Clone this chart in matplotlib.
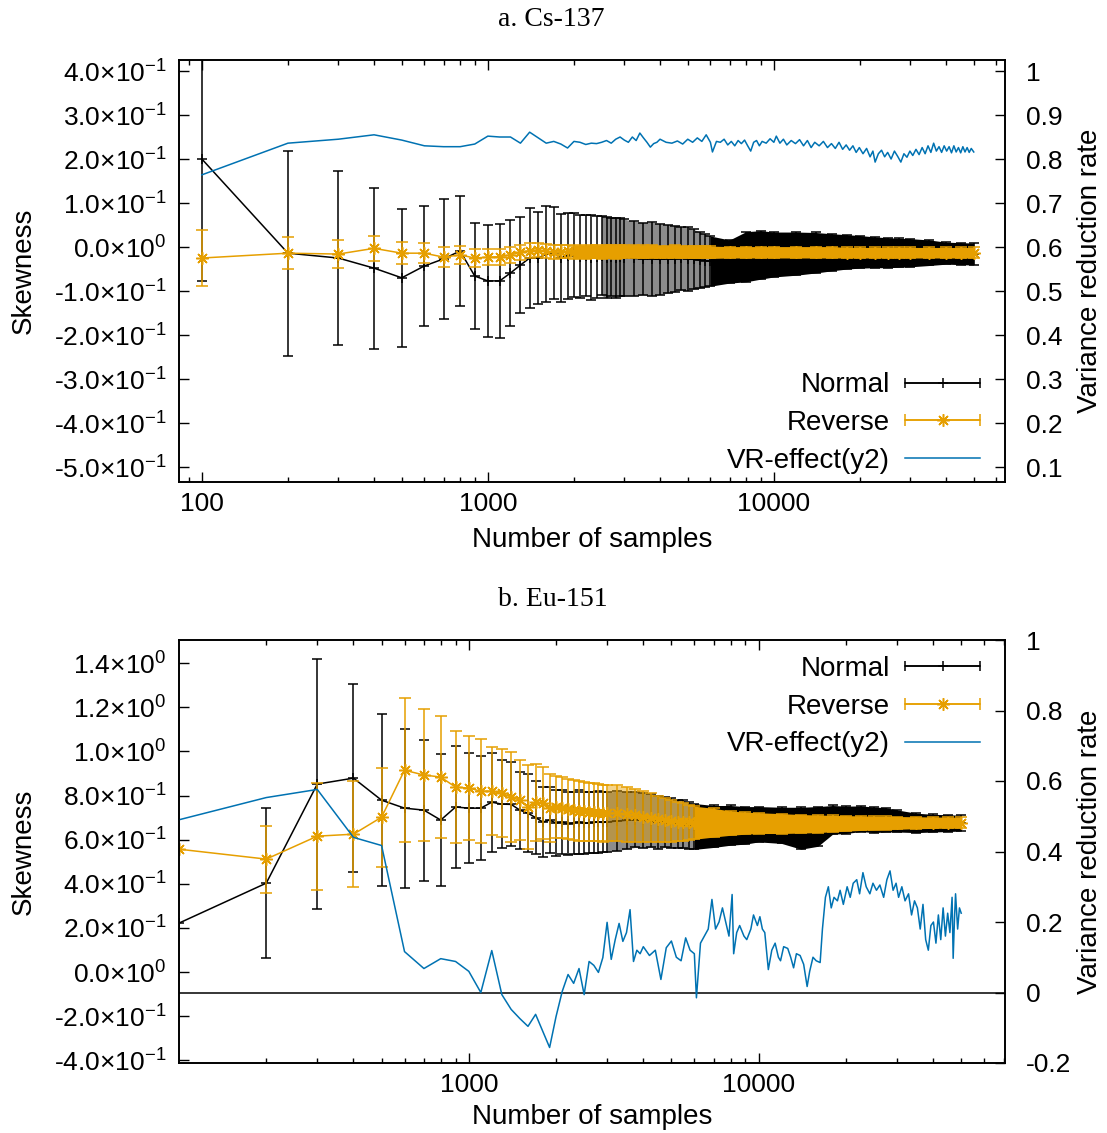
import numpy as np
import matplotlib
matplotlib.use("Agg")
import matplotlib.pyplot as plt
from matplotlib.ticker import FixedLocator, FuncFormatter, NullFormatter
from matplotlib.container import ErrorbarContainer
from matplotlib.legend_handler import HandlerErrorbar

# number of samples where the skewness was evaluated
samples = [100, 200, 300, 400, 500, 600, 700, 800, 900, 1000,
           1100, 1200, 1300, 1400, 1500, 1600, 1700, 1800, 1900, 2000,
           2100, 2200, 2300, 2400, 2500, 2600, 2700, 2800, 2900, 3000,
           3250, 3500, 3750, 4000, 4250, 4500, 4750, 5000, 5250, 5500, 5750, 6000,
           7000, 8000, 9000, 10000,
           12000, 14000, 16000, 18000, 20000, 22500, 25000, 27500, 30000, 35000, 40000, 45000, 50000]

# a. Cs-137
cs_normal = [0.200, -0.014, -0.025, -0.048, -0.070, -0.043, -0.027, -0.009, -0.066, -0.077,
             -0.077, -0.059, -0.041, -0.025, -0.025, -0.016, -0.014, -0.025, -0.020, -0.018,
             -0.022, -0.020, -0.024, -0.022, -0.020, -0.024, -0.022, -0.025, -0.023, -0.024,
             -0.026, -0.027, -0.027, -0.028, -0.027, -0.027, -0.026, -0.027, -0.028, -0.030, -0.031, -0.032,
             -0.033, -0.022, -0.018, -0.017,
             -0.015, -0.013, -0.012, -0.011, -0.011, -0.012, -0.013, -0.013, -0.013, -0.013, -0.014, -0.015, -0.016]
cs_normal_err = [0.277, 0.233, 0.197, 0.183, 0.157, 0.137, 0.137, 0.125, 0.120, 0.127,
                 0.130, 0.120, 0.110, 0.113, 0.105, 0.110, 0.105, 0.100, 0.098, 0.095,
                 0.094, 0.092, 0.096, 0.093, 0.090, 0.092, 0.089, 0.091, 0.088, 0.087,
                 0.085, 0.082, 0.084, 0.080, 0.078, 0.075, 0.072, 0.072, 0.068, 0.064, 0.060, 0.057,
                 0.049, 0.057, 0.055, 0.051,
                 0.049, 0.046, 0.042, 0.039, 0.037, 0.035, 0.034, 0.033, 0.032, 0.029, 0.025, 0.025, 0.025]
cs_reverse = [-0.025, -0.014, -0.016, -0.003, -0.014, -0.014, -0.023, -0.018, -0.025, -0.023,
              -0.022, -0.018, -0.012, -0.008, -0.007, -0.010, -0.012, -0.011, -0.010, -0.012,
              -0.011, -0.012, -0.010, -0.011, -0.012, -0.010, -0.011, -0.012, -0.011, -0.010,
              -0.010, -0.011, -0.010, -0.011, -0.011, -0.010, -0.011, -0.011, -0.012, -0.011, -0.012, -0.012,
              -0.012, -0.012, -0.012, -0.012,
              -0.012, -0.012, -0.012, -0.013, -0.013, -0.013, -0.013, -0.013, -0.013, -0.013, -0.013, -0.013, -0.013]
cs_reverse_err = [0.064, 0.037, 0.031, 0.028, 0.025, 0.022, 0.023, 0.021, 0.020, 0.019,
                  0.018, 0.018, 0.017, 0.017, 0.016, 0.016, 0.016, 0.015, 0.015, 0.015,
                  0.015, 0.015, 0.015, 0.015, 0.015, 0.015, 0.015, 0.015, 0.015, 0.015,
                  0.015, 0.015, 0.015, 0.014, 0.014, 0.014, 0.014, 0.014, 0.014, 0.014, 0.014, 0.014,
                  0.013, 0.013, 0.013, 0.013,
                  0.013, 0.013, 0.013, 0.012, 0.012, 0.012, 0.012, 0.012, 0.012, 0.012, 0.012, 0.012, 0.012]
cs_vr_n = [100, 200, 300, 400, 500, 600, 700, 800, 900, 1000,
           1100, 1200, 1300, 1400, 1500, 1600, 1700, 1800, 1900, 2000,
           2100, 2200, 2300, 2400, 2500, 2600, 2700, 2800, 2900, 3000,
           3100, 3200, 3300, 3400, 3500, 3600, 3700, 3800, 3900, 4000,
           4200, 4400, 4600, 4800, 5000, 5200, 5400, 5600, 5800, 6000,
           6100, 6300, 6500, 6700, 6900, 7100, 7300, 7500, 7700, 7900,
           8100, 8300, 8500, 8700, 8900, 9100, 9400, 9700, 10000, 10200,
           10500, 10800, 11100, 11500, 11900, 12300, 12700, 13100, 13500, 13900,
           14400, 14900, 15400, 15900, 16400, 16900, 17400, 17900, 18400, 18900,
           19400, 19900, 20500, 21100, 21700, 22200, 22600, 23200, 23800, 24400,
           25000, 25700, 26400, 27100, 27800, 28500, 29200, 29900, 30600, 31400,
           32200, 33000, 33800, 34600, 35400, 36200, 37000, 37800, 38600, 39400,
           40200, 41000, 41800, 42600, 43400, 44200, 45000, 45800, 46600, 47400,
           48200, 49000, 50000]
cs_vr = [0.764, 0.836, 0.845, 0.855, 0.843, 0.830, 0.828, 0.828, 0.834, 0.852,
         0.850, 0.850, 0.836, 0.861, 0.848, 0.836, 0.840, 0.834, 0.825, 0.840,
         0.838, 0.833, 0.836, 0.835, 0.838, 0.842, 0.836, 0.845, 0.850, 0.843,
         0.838, 0.850, 0.842, 0.859, 0.848, 0.838, 0.827, 0.835, 0.838, 0.845,
         0.838, 0.836, 0.841, 0.834, 0.845, 0.838, 0.848, 0.840, 0.855, 0.838,
         0.816, 0.840, 0.838, 0.845, 0.832, 0.840, 0.830, 0.842, 0.835, 0.843,
         0.830, 0.818, 0.838, 0.842, 0.830, 0.840, 0.836, 0.846, 0.838, 0.852,
         0.836, 0.845, 0.832, 0.842, 0.835, 0.844, 0.830, 0.842, 0.826, 0.838,
         0.830, 0.840, 0.826, 0.835, 0.824, 0.838, 0.822, 0.832, 0.820, 0.830,
         0.815, 0.826, 0.812, 0.824, 0.805, 0.818, 0.793, 0.812, 0.820, 0.805,
         0.815, 0.800, 0.818, 0.806, 0.793, 0.812, 0.804, 0.818, 0.808, 0.822,
         0.810, 0.826, 0.812, 0.830, 0.815, 0.836, 0.818, 0.828, 0.815, 0.830,
         0.818, 0.828, 0.814, 0.830, 0.816, 0.826, 0.814, 0.828, 0.816, 0.826,
         0.815, 0.824, 0.816]

# b. Eu-151
nan = float('nan')
eu_normal = [0.222, 0.403, 0.852, 0.879, 0.779, 0.743, 0.734, 0.689, 0.748, 0.743,
             0.743, 0.770, 0.761, 0.760, 0.734, 0.720, 0.700, 0.680, 0.689, 0.675,
             0.680, 0.672, 0.676, 0.680, 0.674, 0.676, 0.678, 0.680, 0.678, 0.680,
             0.685, 0.688, 0.690, 0.688, 0.685, 0.680, 0.680, 0.675, 0.672, 0.670, 0.665, 0.660,
             0.660, 0.665, 0.665, 0.670,
             0.665, 0.652, 0.660, 0.690, 0.690, 0.695, 0.690, 0.690, 0.685, 0.676, 0.675, 0.675, 0.675]
eu_normal_err = [nan, 0.340, 0.567, 0.426, 0.390, 0.360, 0.320, 0.300, 0.275, 0.250,
                 0.235, 0.225, 0.200, 0.190, 0.175, 0.177, 0.165, 0.160, 0.150, 0.150,
                 0.145, 0.142, 0.140, 0.143, 0.140, 0.138, 0.137, 0.140, 0.136, 0.135,
                 0.135, 0.130, 0.125, 0.125, 0.120, 0.120, 0.115, 0.112, 0.110, 0.108, 0.105, 0.104,
                 0.095, 0.090, 0.085, 0.080,
                 0.082, 0.095, 0.090, 0.065, 0.062, 0.058, 0.058, 0.055, 0.050, 0.044, 0.040, 0.038, 0.036]
eu_reverse = [0.557, 0.512, 0.616, 0.625, 0.702, 0.915, 0.893, 0.884, 0.838, 0.834,
              0.820, 0.820, 0.810, 0.793, 0.779, 0.748, 0.770, 0.766, 0.743, 0.748,
              0.745, 0.740, 0.735, 0.730, 0.728, 0.725, 0.726, 0.722, 0.720, 0.720,
              0.720, 0.715, 0.710, 0.705, 0.700, 0.695, 0.690, 0.685, 0.682, 0.680, 0.678, 0.677,
              0.677, 0.675, 0.675, 0.675,
              0.673, 0.672, 0.672, 0.673, 0.674, 0.675, 0.675, 0.676, 0.676, 0.677, 0.677, 0.677, 0.677]
eu_reverse_err = [nan, 0.152, 0.243, 0.240, 0.225, 0.325, 0.300, 0.275, 0.255, 0.235,
                  0.235, 0.200, 0.200, 0.205, 0.180, 0.190, 0.175, 0.165, 0.155, 0.140,
                  0.138, 0.136, 0.135, 0.134, 0.133, 0.132, 0.131, 0.130, 0.129, 0.128,
                  0.127, 0.125, 0.120, 0.115, 0.110, 0.105, 0.100, 0.095, 0.090, 0.085, 0.080, 0.075,
                  0.065, 0.055, 0.050, 0.047,
                  0.045, 0.042, 0.040, 0.037, 0.035, 0.033, 0.031, 0.030, 0.029, 0.027, 0.026, 0.025, 0.025]
eu_vr_n = [100, 200, 300, 400, 500, 600, 700, 800, 900, 1000,
           1100, 1200, 1300, 1400, 1500, 1600, 1700, 1800, 1900, 2000,
           2100, 2200, 2300, 2400, 2500, 2600, 2700, 2800, 2900, 3000,
           3100, 3200, 3300, 3400, 3500, 3600, 3700, 3800, 3900, 4000,
           4200, 4400, 4600, 4800, 5000, 5200, 5400, 5600, 5800, 6000,
           6100, 6300, 6500, 6700, 6900, 7100, 7300, 7500, 7700, 7900,
           8100, 8200, 8400, 8600, 8900, 9100, 9400, 9600, 9900, 10100,
           10300, 10500, 10800, 11100, 11400, 11700, 11900, 12200, 12600, 12900,
           13200, 13500, 13900, 14300, 14700, 15000, 15400, 15800, 16300, 16600,
           17000, 17400, 17800, 18200, 18700, 19100, 19600, 20200, 20700, 21200,
           21800, 22300, 22900, 23500, 24200, 24800, 25500, 26200, 27000, 27700,
           28400, 29100, 29800, 30400, 31200, 32000, 32900, 33700, 34500, 35300,
           36100, 36900, 37700, 38500, 39300, 40100, 40900, 41700, 42500, 43300,
           44100, 44900, 45700, 46500, 46900, 47400, 47800, 48600, 49300, 50000]
eu_vr = [0.490, 0.553, 0.576, 0.440, 0.417, 0.116, 0.068, 0.096, 0.088, 0.060,
         0.000, 0.119, -0.006, -0.048, -0.074, -0.096, -0.062, -0.110, -0.156, -0.068,
         0.003, 0.051, 0.026, 0.068, -0.006, 0.088, 0.077, 0.057, 0.099, 0.199,
         0.094, 0.150, 0.196, 0.145, 0.170, 0.235, 0.088, 0.120, 0.110, 0.130,
         0.105, 0.120, 0.037, 0.127, 0.146, 0.100, 0.090, 0.155, 0.120, 0.110,
         -0.015, 0.140, 0.160, 0.180, 0.264, 0.180, 0.200, 0.240, 0.200, 0.160,
         0.278, 0.110, 0.170, 0.190, 0.160, 0.150, 0.180, 0.220, 0.190, 0.215,
         0.180, 0.170, 0.065, 0.120, 0.140, 0.100, 0.090, 0.130, 0.125, 0.100,
         0.070, 0.110, 0.105, 0.080, 0.017, 0.060, 0.100, 0.090, 0.085, 0.180,
         0.270, 0.300, 0.240, 0.270, 0.260, 0.290, 0.250, 0.300, 0.270, 0.310,
         0.320, 0.280, 0.340, 0.300, 0.280, 0.310, 0.290, 0.305, 0.270, 0.320,
         0.345, 0.290, 0.310, 0.270, 0.300, 0.260, 0.280, 0.220, 0.260, 0.240,
         0.180, 0.250, 0.150, 0.120, 0.190, 0.200, 0.140, 0.220, 0.150, 0.240,
         0.160, 0.225, 0.170, 0.270, 0.097, 0.210, 0.280, 0.180, 0.240, 0.225]

BLACK = '#000000'
ORANGE = '#e69f00'
BLUE = '#0072b2'

plt.rcParams['font.family'] = ['Liberation Sans', 'DejaVu Sans']
plt.rcParams['mathtext.fontset'] = 'custom'
plt.rcParams['mathtext.rm'] = 'Liberation Sans'
plt.rcParams['mathtext.it'] = 'Liberation Sans:italic'
plt.rcParams['mathtext.bf'] = 'Liberation Sans:bold'


def sci_fmt(v, pos=None):
    if abs(v) < 1e-9:
        return '0.0×10$^{\\mathregular{0}}$'
    e = int(np.floor(np.log10(abs(v)) + 1e-9))
    return f'{v / 10**e:.1f}×10$^{{\\mathregular{{{e}}}}}$'


def plain_fmt(v, pos=None):
    if abs(v) < 1e-9:
        return '0'
    return f'{round(v, 3):g}'


def band(ax, n, mean, err, light_from, solid_from, color, z):
    # many overlapping error bars merge into a band at large sample counts
    lo, hi = mean - err, mean + err
    light = (n >= light_from) & (n <= solid_from)
    if light.any():
        ax.fill_between(n[light], lo[light], hi[light], color=color, alpha=0.45, lw=0, zorder=z)
    solid = n >= solid_from
    ax.fill_between(n[solid], lo[solid], hi[solid], color=color, lw=0, zorder=z)


def draw_panel(ax, normal, normal_err, reverse, reverse_err, vr_n, vr,
               normal_fill, reverse_fill):
    n = np.array(samples, dtype=float)
    normal, normal_err = np.array(normal), np.array(normal_err)
    reverse, reverse_err = np.array(reverse), np.array(reverse_err)

    eb_normal = ax.errorbar(n, normal, yerr=normal_err, color=BLACK, lw=1.1,
                            marker='+', ms=7, mew=1.1, elinewidth=1.1,
                            capsize=3.5, capthick=1.1, zorder=2)
    band(ax, n, normal, normal_err, *normal_fill, BLACK, 1.9)

    eb_reverse = ax.errorbar(n, reverse, yerr=reverse_err, color=ORANGE, lw=1.1,
                             marker=(8, 2, 0), ms=9, mew=1.1, elinewidth=1.1,
                             capsize=4.3, capthick=1.1, zorder=2.2)
    band(ax, n, reverse, reverse_err, *reverse_fill, ORANGE, 2.1)

    ax2 = ax.twinx()
    vr_line, = ax2.plot(vr_n, vr, color=BLUE, lw=1.1)

    ax.set_xscale('log')
    ax.xaxis.set_minor_locator(FixedLocator([k * 10**p for p in (1, 2, 3, 4) for k in range(2, 10)]))
    ax.xaxis.set_minor_formatter(NullFormatter())
    ax.xaxis.set_major_formatter(FuncFormatter(lambda v, p: f'{v:.0f}'))
    ax.yaxis.set_major_formatter(FuncFormatter(sci_fmt))
    ax2.yaxis.set_major_formatter(FuncFormatter(plain_fmt))

    ax.tick_params(axis='both', which='major', direction='in', length=7, width=1.0, labelsize=19)
    ax.tick_params(axis='x', which='both', direction='in', top=True, pad=7)
    ax.tick_params(axis='x', which='minor', length=3.5, width=1.0)
    ax.tick_params(axis='y', left=True, right=False, pad=9)
    ax2.tick_params(axis='y', direction='in', length=7, width=1.0, labelsize=19, pad=15)
    for a in (ax, ax2):
        for sp in a.spines.values():
            sp.set_linewidth(1.2)

    ax.set_ylabel('Skewness', fontsize=20, va='center')
    ax2.set_ylabel('Variance reduction rate', fontsize=20, va='center')
    ax.yaxis.set_label_coords(-0.1877, 0.5)
    ax2.yaxis.set_label_coords(1.103, 0.5)
    ax.set_xlabel('Number of samples', fontsize=20, va='center')

    h_normal = ErrorbarContainer(eb_normal.lines, has_xerr=True, has_yerr=False, label='Normal')
    h_reverse = ErrorbarContainer(eb_reverse.lines, has_xerr=True, has_yerr=False, label='Reverse')
    return ax2, [h_normal, h_reverse, vr_line]


fig = plt.figure(figsize=(11.07, 11.33), dpi=100)
W, H = 1107, 1133
ax_a = fig.add_axes([179 / W, 1 - 482 / H, 826 / W, 422 / H])
ax_b = fig.add_axes([179 / W, 1 - 1063 / H, 826 / W, 423 / H])

labels = ['Normal', 'Reverse', 'VR-effect(y2)']
hl = 2.7
legend_kw = dict(frameon=False, markerfirst=False, fontsize=20, handlelength=hl,
                 handletextpad=0.55, labelspacing=0.42, borderpad=0, borderaxespad=0)

# panel a
ax_a2, handles_a = draw_panel(ax_a, cs_normal, cs_normal_err, cs_reverse, cs_reverse_err,
                              cs_vr_n, cs_vr, (2500, 6000), (2000, 2000))
ax_a.set_xlim(83.2, 64300)
ax_a.set_ylim(-0.534, 0.425)
ax_a2.set_ylim(0.066, 1.025)
ax_a.xaxis.set_major_locator(FixedLocator([100, 1000, 10000]))
ax_a.yaxis.set_major_locator(FixedLocator(np.round(np.arange(-5, 5) * 0.1, 1)))
ax_a2.yaxis.set_major_locator(FixedLocator(np.round(np.arange(1, 11) * 0.1, 1)))
ax_a.xaxis.set_label_coords(0.5, -0.137)
ax_a2.legend(handles_a, labels, loc='lower right', bbox_to_anchor=(0.97, 0.02),
             handler_map={h: HandlerErrorbar(xerr_size=hl / 2) for h in handles_a[:2]},
             **legend_kw)

# panel b
ax_b2, handles_b = draw_panel(ax_b, eu_normal, eu_normal_err, eu_reverse, eu_reverse_err,
                              eu_vr_n, eu_vr, (3000, 6000), (3000, 6000))
ax_b.set_xlim(100, 70800)
ax_b.set_ylim(-0.412, 1.505)
ax_b2.set_ylim(-0.2, 1.0)
ax_b2.axhline(0, color=BLACK, lw=1.1, zorder=1)
ax_b.xaxis.set_major_locator(FixedLocator([1000, 10000]))
ax_b.yaxis.set_major_locator(FixedLocator(np.round(np.arange(-2, 8) * 0.2, 1)))
ax_b2.yaxis.set_major_locator(FixedLocator(np.round(np.arange(-1, 6) * 0.2, 1)))
ax_b.xaxis.set_label_coords(0.5, -0.128)
ax_b2.legend(handles_b, labels, loc='upper right', bbox_to_anchor=(0.97, 0.962),
             handler_map={h: HandlerErrorbar(xerr_size=hl / 2) for h in handles_b[:2]},
             **legend_kw)

fig.text(551 / W, 1 - 20 / H, 'a. Cs-137', family='Liberation Serif', fontsize=20,
         ha='center', va='center')
fig.text(553 / W, 1 - 600 / H, 'b. Eu-151', family='Liberation Serif', fontsize=20,
         ha='center', va='center')

fig.savefig('out.png', dpi=100)
